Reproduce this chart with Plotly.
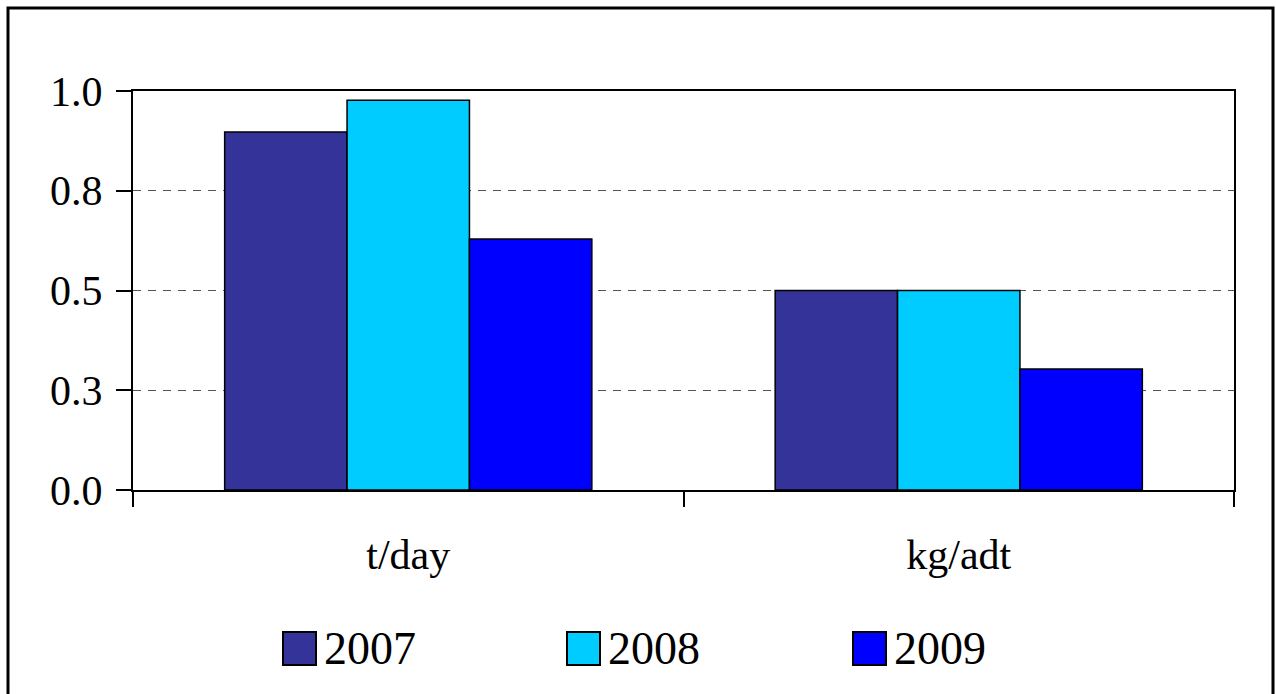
import plotly.graph_objects as go

categories = ["t/day", "kg/adt"]
years = ["2007", "2008", "2009"]
values_2007 = [0.897, 0.50]
values_2008 = [0.977, 0.50]
values_2009 = [0.629, 0.303]
colors = ["#333399", "#00CCFF", "#0000FF"]
y_tickvals = [0.0, 0.25, 0.5, 0.75, 1.0]
y_ticktext = ["0.0", "0.3", "0.5", "0.8", "1.0"]

series = [values_2007, values_2008, values_2009]
FONT = "Liberation Serif, Times New Roman, serif"

fig = go.Figure()
for name, vals, col in zip(years, series, colors):
    fig.add_trace(go.Bar(
        x=categories, y=vals, name=name,
        marker=dict(color=col, line=dict(color="black", width=1.5)),
        showlegend=False,
    ))

W, H = 1276, 694
L, R, T, B = 133, 42, 91, 204
pw, ph = W - L - R, H - T - B

def px_x(p):
    return (p - L) / pw

def px_y(p):
    return (H - B - p) / ph

shapes = []
# outer chart frame
shapes.append(dict(type="rect", xref="paper", yref="paper",
                   x0=px_x(8), x1=px_x(1273), y0=px_y(705), y1=px_y(8),
                   line=dict(color="black", width=3), fillcolor="rgba(0,0,0,0)", layer="below"))

annotations = []
legend_x = [283, 567, 853]
sq = 33
for i, (name, col) in enumerate(zip(years, colors)):
    x0 = legend_x[i]
    shapes.append(dict(type="rect", xref="paper", yref="paper",
                       x0=px_x(x0), x1=px_x(x0 + sq), y0=px_y(665), y1=px_y(632),
                       fillcolor=col, line=dict(color="black", width=2)))
    annotations.append(dict(xref="paper", yref="paper", x=px_x(x0 + sq + 6), y=px_y(648),
                            text=name, showarrow=False, xanchor="left", yanchor="middle",
                            font=dict(family=FONT, size=46, color="black")))

fig.update_layout(
    width=W, height=H,
    margin=dict(l=L, r=R, t=T, b=B),
    paper_bgcolor="white", plot_bgcolor="white",
    barmode="group", bargap=0.333, bargroupgap=0,
    font=dict(family=FONT, color="black"),
    shapes=shapes, annotations=annotations,
)
fig.update_xaxes(
    showline=True, linecolor="black", linewidth=2, mirror=True,
    ticks="outside", tickson="boundaries", ticklen=15, tickwidth=2, tickcolor="black",
    tickfont=dict(family=FONT, size=42, color="black"),
    ticklabelstandoff=27,
    showgrid=False,
)
fig.update_yaxes(
    range=[0, 1], tickvals=y_tickvals, ticktext=y_ticktext,
    showline=True, linecolor="black", linewidth=2, mirror=True,
    ticks="outside", ticklen=15, tickwidth=2, tickcolor="black",
    tickfont=dict(family=FONT, size=42, color="black"),
    ticklabelstandoff=5,
    showgrid=True, gridcolor="#555555", gridwidth=1, griddash="8px,7px",
    zeroline=False,
)

fig.write_html("out.html", config={"displayModeBar": False},
               post_script="document.body.style.margin='0';document.body.style.overflow='hidden';")
